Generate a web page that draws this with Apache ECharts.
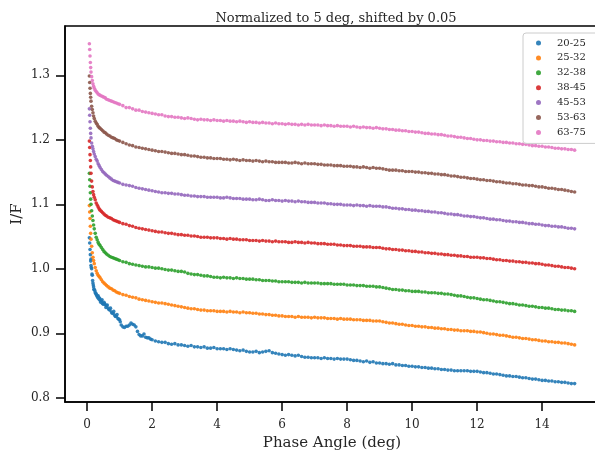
<!DOCTYPE html>
<html><head><meta charset="utf-8">
<script src="https://cdn.jsdelivr.net/npm/echarts@6/dist/echarts.min.js"></script>
<style>html,body{margin:0;padding:0;background:#fff}#c{width:595px;height:451px}</style>
</head><body><div id="c"></div>
<script>
const seriesNames = ["20-25","25-32","32-38","38-45","45-53","53-63","63-75"];
const colors = ["#1f77b4","#ff7f0e","#2ca02c","#d62728","#9467bd","#8c564b","#e377c2"];
const xTicks = [0,2,4,6,8,10,12,14];
const yTicks = [0.8,0.9,1.0,1.1,1.2,1.3];

const phase = [0.07,0.08,0.09,0.10,0.11,0.12,0.14,0.16,0.18,0.20,0.22,0.25,0.28,0.31,0.34,0.37,0.40,0.44,0.48,0.52,0.56,0.60,0.65,0.70,0.75,0.80,0.85,0.90,0.95,1.00,
1.1,1.2,1.3,1.4,1.5,1.6,1.7,1.8,1.9,2.0,
2.1,2.2,2.3,2.4,2.5,2.6,2.7,2.8,2.9,3.0,
3.1,3.2,3.3,3.4,3.5,3.6,3.7,3.8,3.9,4.0,
4.1,4.2,4.3,4.4,4.5,4.6,4.7,4.8,4.9,5.0,
5.1,5.2,5.3,5.4,5.5,5.6,5.7,5.8,5.9,6.0,
6.1,6.2,6.3,6.4,6.5,6.6,6.7,6.8,6.9,7.0,
7.1,7.2,7.3,7.4,7.5,7.6,7.7,7.8,7.9,8.0,
8.1,8.2,8.3,8.4,8.5,8.6,8.7,8.8,8.9,9.0,
9.1,9.2,9.3,9.4,9.5,9.6,9.7,9.8,9.9,10.0,
10.1,10.2,10.3,10.4,10.5,10.6,10.7,10.8,10.9,11.0,
11.1,11.2,11.3,11.4,11.5,11.6,11.7,11.8,11.9,12.0,
12.1,12.2,12.3,12.4,12.5,12.6,12.7,12.8,12.9,13.0,
13.1,13.2,13.3,13.4,13.5,13.6,13.7,13.8,13.9,14.0,
14.1,14.2,14.3,14.4,14.5,14.6,14.7,14.8,14.9,15.0];

const s20_25 = [1.048,1.040,1.030,1.022,1.012,1.005,1.000,0.990,0.978,0.972,0.968,0.963,0.960,0.957,0.958,0.953,0.951,0.950,0.946,0.948,0.944,0.943,0.939,0.936,0.933,0.931,0.928,0.926,0.923,0.921,
0.910,0.911,0.913,0.914,0.910,0.898,0.896,0.894,0.893,0.890,
0.888,0.887,0.886,0.886,0.884,0.883,0.884,0.882,0.882,0.881,
0.880,0.881,0.879,0.879,0.878,0.879,0.877,0.877,0.878,0.876,
0.876,0.876,0.875,0.876,0.875,0.874,0.873,0.874,0.872,0.871,
0.871,0.872,0.870,0.871,0.872,0.873,0.870,0.869,0.868,0.867,
0.866,0.867,0.866,0.865,0.866,0.864,0.863,0.863,0.862,0.862,
0.862,0.861,0.862,0.861,0.861,0.860,0.861,0.860,0.860,0.860,
0.859,0.858,0.858,0.857,0.856,0.857,0.855,0.856,0.854,0.854,
0.853,0.853,0.852,0.853,0.851,0.851,0.850,0.850,0.849,0.849,
0.848,0.848,0.847,0.847,0.846,0.846,0.845,0.845,0.844,0.844,
0.843,0.843,0.842,0.842,0.842,0.842,0.842,0.841,0.841,0.841,
0.840,0.839,0.839,0.838,0.837,0.837,0.836,0.835,0.834,0.834,
0.833,0.833,0.832,0.831,0.831,0.830,0.829,0.829,0.828,0.827,
0.827,0.826,0.826,0.825,0.825,0.824,0.824,0.823,0.822,0.822];

// extra, scattered early points of the 20-25 series
const extra20_25_x = [0.12,0.13,0.15,0.17,0.19,0.21,0.24,0.27,0.30,0.33,0.36,0.39,0.42,0.46,0.50,0.54,0.58,0.62,0.67,0.72,0.77,0.82,0.87,0.92,0.97,1.02,1.05,1.15,1.25,1.35,1.45,1.55,1.65,1.75,1.85,1.95];
const extra20_25_y = [1.015,1.002,0.992,0.982,0.975,0.968,0.966,0.962,0.959,0.955,0.956,0.954,0.948,0.952,0.945,0.946,0.940,0.944,0.937,0.939,0.931,0.934,0.926,0.929,0.922,0.918,0.913,0.909,0.911,0.916,0.913,0.903,0.896,0.899,0.893,0.891];

const s25_32 = [1.098,1.088,1.078,1.066,1.055,1.046,1.035,1.025,1.018,1.013,1.008,1.002,0.997,0.993,0.990,0.988,0.986,0.983,0.980,0.978,0.976,0.974,0.972,0.970,0.969,0.967,0.966,0.964,0.963,0.962,
0.960,0.959,0.957,0.956,0.955,0.953,0.952,0.951,0.950,0.949,
0.948,0.947,0.947,0.946,0.945,0.944,0.943,0.942,0.941,0.940,
0.939,0.938,0.938,0.937,0.936,0.936,0.935,0.935,0.935,0.934,
0.934,0.934,0.933,0.934,0.933,0.933,0.932,0.933,0.932,0.932,
0.931,0.931,0.930,0.930,0.929,0.929,0.928,0.928,0.927,0.927,
0.926,0.926,0.926,0.925,0.926,0.925,0.925,0.925,0.924,0.925,
0.924,0.924,0.924,0.923,0.923,0.923,0.922,0.923,0.922,0.922,
0.922,0.921,0.921,0.921,0.920,0.920,0.920,0.919,0.919,0.919,
0.918,0.917,0.916,0.916,0.915,0.914,0.914,0.913,0.912,0.912,
0.911,0.911,0.910,0.910,0.909,0.909,0.908,0.908,0.907,0.907,
0.906,0.906,0.905,0.905,0.904,0.904,0.904,0.903,0.903,0.902,
0.902,0.901,0.900,0.899,0.899,0.898,0.897,0.897,0.896,0.895,
0.894,0.894,0.893,0.892,0.892,0.891,0.890,0.890,0.889,0.888,
0.888,0.887,0.887,0.886,0.886,0.885,0.885,0.884,0.883,0.882];

const s32_38 = [1.148,1.138,1.128,1.118,1.108,1.100,1.090,1.082,1.075,1.068,1.062,1.055,1.049,1.045,1.041,1.038,1.036,1.033,1.030,1.027,1.025,1.023,1.021,1.019,1.018,1.017,1.016,1.015,1.014,1.013,
1.011,1.010,1.008,1.007,1.006,1.005,1.004,1.003,1.003,1.002,
1.001,1.001,1.000,0.999,0.998,0.998,0.997,0.996,0.996,0.995,
0.993,0.992,0.991,0.991,0.990,0.989,0.989,0.988,0.987,0.987,
0.986,0.987,0.986,0.986,0.985,0.986,0.985,0.985,0.984,0.984,
0.984,0.983,0.983,0.982,0.982,0.982,0.981,0.981,0.980,0.980,
0.980,0.980,0.979,0.979,0.979,0.978,0.979,0.978,0.978,0.978,
0.978,0.977,0.977,0.977,0.977,0.976,0.976,0.976,0.976,0.975,
0.975,0.975,0.974,0.974,0.974,0.973,0.973,0.973,0.972,0.972,
0.971,0.970,0.969,0.968,0.968,0.967,0.967,0.966,0.966,0.965,
0.965,0.965,0.964,0.964,0.963,0.963,0.963,0.962,0.962,0.961,
0.961,0.960,0.959,0.958,0.958,0.957,0.956,0.955,0.955,0.954,
0.953,0.952,0.952,0.951,0.950,0.949,0.949,0.948,0.947,0.946,
0.946,0.945,0.944,0.944,0.943,0.942,0.942,0.941,0.940,0.940,
0.939,0.939,0.938,0.937,0.937,0.936,0.936,0.935,0.935,0.934];

const s38_45 = [1.198,1.188,1.177,1.168,1.158,1.148,1.136,1.127,1.120,1.115,1.111,1.107,1.102,1.099,1.096,1.093,1.091,1.089,1.087,1.085,1.083,1.082,1.080,1.079,1.078,1.076,1.075,1.074,1.073,1.072,
1.070,1.069,1.067,1.066,1.064,1.063,1.062,1.061,1.060,1.059,
1.058,1.057,1.057,1.056,1.055,1.055,1.054,1.053,1.053,1.052,
1.052,1.051,1.051,1.050,1.049,1.049,1.049,1.048,1.048,1.048,
1.047,1.047,1.046,1.047,1.046,1.046,1.045,1.045,1.045,1.044,
1.044,1.044,1.043,1.044,1.043,1.043,1.042,1.043,1.042,1.042,
1.042,1.041,1.041,1.042,1.041,1.041,1.040,1.041,1.040,1.040,
1.039,1.039,1.039,1.038,1.038,1.038,1.037,1.037,1.036,1.036,
1.036,1.035,1.035,1.035,1.034,1.034,1.034,1.033,1.033,1.033,
1.032,1.031,1.031,1.030,1.030,1.029,1.029,1.028,1.028,1.027,
1.027,1.026,1.026,1.025,1.025,1.024,1.024,1.023,1.023,1.022,
1.022,1.021,1.021,1.020,1.020,1.019,1.019,1.018,1.018,1.018,
1.017,1.017,1.016,1.016,1.015,1.014,1.014,1.013,1.013,1.012,
1.012,1.011,1.011,1.010,1.010,1.009,1.009,1.008,1.008,1.007,
1.006,1.006,1.005,1.004,1.004,1.003,1.002,1.002,1.001,1.000];

const s45_53 = [1.248,1.238,1.228,1.218,1.210,1.203,1.195,1.190,1.186,1.182,1.178,1.174,1.170,1.167,1.163,1.160,1.157,1.154,1.151,1.149,1.147,1.145,1.143,1.141,1.139,1.137,1.136,1.135,1.134,1.133,
1.131,1.130,1.129,1.128,1.126,1.125,1.124,1.123,1.122,1.121,
1.120,1.119,1.118,1.118,1.117,1.117,1.116,1.116,1.115,1.114,
1.114,1.113,1.113,1.112,1.112,1.112,1.111,1.111,1.111,1.111,
1.110,1.110,1.111,1.110,1.109,1.109,1.109,1.108,1.108,1.108,
1.107,1.107,1.108,1.107,1.106,1.106,1.107,1.106,1.106,1.105,
1.106,1.105,1.105,1.104,1.105,1.104,1.104,1.103,1.103,1.103,
1.102,1.102,1.102,1.101,1.101,1.100,1.100,1.100,1.099,1.099,
1.099,1.098,1.099,1.098,1.098,1.097,1.098,1.097,1.097,1.097,
1.096,1.096,1.095,1.094,1.094,1.093,1.093,1.092,1.092,1.091,
1.091,1.090,1.090,1.089,1.089,1.088,1.088,1.087,1.087,1.086,
1.085,1.085,1.084,1.084,1.083,1.082,1.082,1.081,1.081,1.080,
1.079,1.079,1.078,1.077,1.077,1.076,1.076,1.075,1.074,1.074,
1.073,1.073,1.072,1.072,1.071,1.070,1.070,1.069,1.069,1.068,
1.067,1.067,1.066,1.066,1.065,1.065,1.064,1.063,1.063,1.062];

const s53_63 = [1.299,1.289,1.280,1.272,1.266,1.260,1.252,1.247,1.242,1.237,1.233,1.229,1.226,1.224,1.221,1.219,1.218,1.216,1.214,1.212,1.211,1.209,1.207,1.206,1.204,1.203,1.202,1.200,1.199,1.198,
1.196,1.194,1.192,1.191,1.189,1.188,1.187,1.186,1.185,1.184,
1.183,1.182,1.182,1.181,1.180,1.179,1.179,1.178,1.177,1.177,
1.176,1.175,1.175,1.174,1.173,1.173,1.172,1.172,1.171,1.171,
1.171,1.170,1.170,1.169,1.170,1.169,1.168,1.169,1.168,1.168,
1.167,1.168,1.167,1.166,1.167,1.166,1.166,1.165,1.165,1.165,
1.165,1.164,1.164,1.165,1.164,1.163,1.164,1.163,1.163,1.163,
1.162,1.162,1.161,1.161,1.161,1.160,1.160,1.160,1.159,1.159,
1.159,1.158,1.158,1.157,1.158,1.157,1.156,1.157,1.156,1.156,
1.155,1.154,1.153,1.153,1.153,1.152,1.152,1.151,1.151,1.151,
1.150,1.150,1.149,1.149,1.148,1.148,1.147,1.147,1.146,1.146,
1.145,1.144,1.144,1.143,1.142,1.142,1.141,1.140,1.140,1.139,
1.138,1.138,1.137,1.137,1.136,1.135,1.135,1.134,1.133,1.133,
1.132,1.132,1.131,1.130,1.130,1.129,1.129,1.128,1.127,1.127,
1.126,1.125,1.125,1.124,1.123,1.123,1.122,1.121,1.120,1.119];

const s63_75 = [1.349,1.340,1.330,1.320,1.312,1.305,1.298,1.292,1.287,1.283,1.280,1.277,1.275,1.273,1.271,1.270,1.269,1.268,1.267,1.266,1.265,1.263,1.262,1.261,1.260,1.259,1.258,1.257,1.256,1.255,
1.253,1.250,1.250,1.248,1.246,1.246,1.244,1.243,1.242,1.241,
1.240,1.239,1.239,1.237,1.236,1.236,1.235,1.235,1.234,1.233,
1.234,1.233,1.232,1.231,1.232,1.231,1.231,1.230,1.231,1.230,
1.230,1.229,1.230,1.229,1.229,1.228,1.229,1.228,1.227,1.228,
1.227,1.227,1.226,1.227,1.226,1.226,1.225,1.226,1.225,1.225,
1.224,1.225,1.224,1.224,1.223,1.224,1.223,1.224,1.223,1.223,
1.223,1.222,1.223,1.222,1.222,1.221,1.222,1.221,1.221,1.221,
1.220,1.221,1.220,1.219,1.220,1.219,1.219,1.218,1.219,1.218,
1.217,1.217,1.216,1.216,1.215,1.215,1.214,1.214,1.213,1.213,
1.212,1.212,1.211,1.210,1.210,1.209,1.209,1.208,1.208,1.207,
1.206,1.206,1.205,1.204,1.204,1.203,1.202,1.202,1.201,1.200,
1.200,1.199,1.199,1.198,1.198,1.197,1.197,1.196,1.196,1.195,
1.195,1.194,1.194,1.193,1.193,1.192,1.191,1.191,1.190,1.190,
1.189,1.189,1.188,1.187,1.187,1.186,1.186,1.185,1.185,1.184];

const allSeries = [s20_25,s25_32,s32_38,s38_45,s45_53,s53_63,s63_75];

const FONT = 'DejaVu Serif';
const TXT = '#262626';
const chart = echarts.init(document.getElementById('c'), null, {renderer:'canvas'});
const seriesList = allSeries.map((ys,i)=>{
  let data = ys.map((y,j)=>[phase[j], y]);
  if (i === 0) data = data.concat(extra20_25_x.map((x,j)=>[x, extra20_25_y[j]]));
  return {
    name:seriesNames[i], type:'scatter', symbol:'circle', symbolSize:3.6,
    itemStyle:{color:colors[i], opacity:0.9},
    data: data
  };
});
chart.setOption({
  animation:false,
  backgroundColor:'#fff',
  title:{text:'Normalized to 5 deg, shifted by 0.05', left:331, top:7, textAlign:'center',
    textStyle:{fontFamily:FONT, fontSize:13, fontWeight:'normal', color:TXT}},
  legend:{
    data: seriesNames.map(n=>({name:n, icon:'circle'})),
    orient:'vertical', left:523, top:33,
    padding:[4,24,5,13], itemWidth:5, itemHeight:5, itemGap:2.9,
    backgroundColor:'rgba(255,255,255,0.8)', borderColor:'#cccccc', borderWidth:1, borderRadius:3,
    formatter: n => '{g|}' + n,
    textStyle:{fontFamily:FONT, fontSize:10, color:TXT, lineHeight:12,
      rich:{g:{width:11, fontSize:10, lineHeight:12}}}
  },
  grid:{left:65, top:26, width:534, height:376, containLabel:false, outerBoundsMode:'none',
    show:true, borderColor:'#000', borderWidth:1.5, backgroundColor:'transparent'},
  xAxis:{type:'value', min:-0.68, max:15.75,
    name:'Phase Angle (deg)', nameLocation:'middle', nameGap:34, nameMoveOverlap:false,
    nameTextStyle:{fontFamily:FONT, fontSize:15, color:TXT},
    axisLine:{show:true, onZero:false, lineStyle:{color:'#000', width:1.5}},
    axisTick:{show:true, customValues:xTicks, length:9, lineStyle:{color:'#000', width:1.5}},
    axisLabel:{customValues:xTicks, margin:17, fontFamily:FONT, fontSize:12, color:TXT, formatter:v=>String(v)},
    splitLine:{show:false}},
  yAxis:{type:'value', min:0.7935, max:1.3765,
    name:'I/F', nameLocation:'middle', nameGap:40, nameMoveOverlap:false,
    nameTextStyle:{fontFamily:FONT, fontSize:15, color:TXT},
    axisLine:{show:true, onZero:false, lineStyle:{color:'#000', width:1.5}},
    axisTick:{show:true, customValues:yTicks, length:9, lineStyle:{color:'#000', width:1.5}},
    axisLabel:{customValues:yTicks, margin:15, fontFamily:FONT, fontSize:12, color:TXT, formatter:v=>v.toFixed(1)},
    splitLine:{show:false}},
  series: seriesList
});
</script></body></html>
